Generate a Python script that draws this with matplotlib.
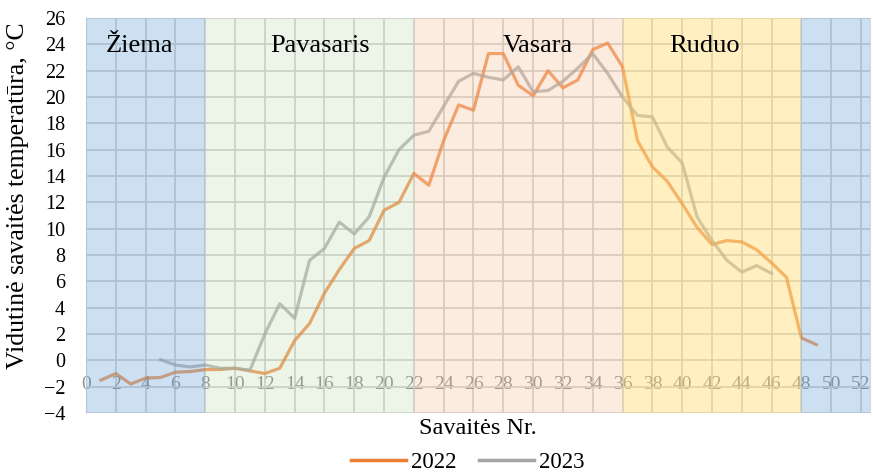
import matplotlib
matplotlib.use('Agg')
import matplotlib.pyplot as plt

plt.rcParams['font.family'] = ['Liberation Serif', 'DejaVu Serif']

# duomenys
weeks_2022 = list(range(1, 50))
temp_2022 = [-1.5, -1.0, -1.8, -1.35, -1.3, -0.9, -0.85, -0.7, -0.7, -0.6,
             -0.8, -1.0, -0.6, 1.5, 2.8, 5.1, 6.9, 8.5, 9.1, 11.4,
             12.0, 14.2, 13.3, 16.7, 19.4, 19.0, 23.3, 23.3, 20.9, 20.1,
             22.0, 20.7, 21.3, 23.6, 24.1, 22.3, 16.7, 14.7, 13.6, 11.9,
             10.1, 8.8, 9.1, 9.0, 8.4, 7.4, 6.3, 1.7, 1.2]
weeks_2023 = list(range(5, 47))
temp_2023 = [0.05, -0.35, -0.5, -0.35, -0.6, -0.6, -0.75, 2.0, 4.3, 3.2,
             7.6, 8.5, 10.5, 9.6, 10.9, 13.9, 16.0, 17.1, 17.4, 19.3,
             21.2, 21.8, 21.5, 21.3, 22.3, 20.4, 20.5, 21.2, 22.2, 23.3,
             21.8, 20.0, 18.6, 18.5, 16.2, 15.0, 10.9, 9.1, 7.6, 6.7,
             7.2, 6.6]

seasons = ['Žiema', 'Pavasaris', 'Vasara', 'Ruduo', '']
season_start = [0, 8, 22, 36, 48]
season_end = [8, 22, 36, 48, 52.6]
season_colors = ['#5b9bd5', '#a9d18e', '#f4b183', '#ffd966', '#5b9bd5']
season_alpha = [0.3, 0.2, 0.25, 0.4, 0.3]
label_x = [3.6, 15.7, 30.3, 41.5]

fig = plt.figure(figsize=(8.73, 4.75), dpi=100)
ax = fig.add_axes([0.0985, 0.1305, 0.898, 0.8315])

ax.set_xlim(0, 52.6)
ax.set_ylim(-4, 26)
ax.set_xticks(range(0, 53, 2))
ax.set_yticks(range(-4, 27, 2))
ax.grid(True, color='#cfcfcf', linewidth=1.2, zorder=1)
ax.set_axisbelow(True)

# linijos zem sezonu fono
ax.plot(weeks_2022, temp_2022, color='#ed7d31', linewidth=2.3, alpha=0.75,
        solid_joinstyle='round', zorder=2)
ax.plot(weeks_2023, temp_2023, color='#a5a5a5', linewidth=2.3, alpha=0.75,
        solid_joinstyle='round', zorder=2)

for s, e, c, a in zip(season_start, season_end, season_colors, season_alpha):
    ax.axvspan(s, e, color=c, alpha=a, linewidth=0, zorder=3)

for name, x in zip(seasons, label_x):
    ax.text(x, 23.9, name, ha='center', va='center', fontsize=19, zorder=5)

for sp in ['top', 'left', 'right']:
    ax.spines[sp].set_color('#d9d9d9')
ax.spines['bottom'].set_position(('data', 0))
ax.spines['bottom'].set_visible(False)
ax.axhline(-4, color='#d9d9d9', linewidth=1.5, zorder=1)

ax.tick_params(axis='x', length=0, pad=11, labelsize=14, labelcolor='#909090')
ax.tick_params(axis='y', length=0, pad=15, labelsize=14.5, labelcolor='black')

fig.text(0.021, 1 - 196 / 475, 'Vidutinė savaitės temperatūra, °C', rotation=90,
         ha='center', va='center', fontsize=18.5)
fig.text(0.5476, 1 - 428 / 475, 'Savaitės Nr.', ha='center', va='center', fontsize=17.5)

h1, = plt.plot([], [], color='#ed7d31', linewidth=2.5)
h2, = plt.plot([], [], color='#a5a5a5', linewidth=2.5)
fig.legend([h1, h2], ['2022', '2023'], loc='center', bbox_to_anchor=(0.536, 0.026),
           ncol=2, frameon=False, fontsize=16.5, handlelength=2.4,
           handletextpad=0.2, columnspacing=1.0)

fig.savefig('out.png', dpi=100)
